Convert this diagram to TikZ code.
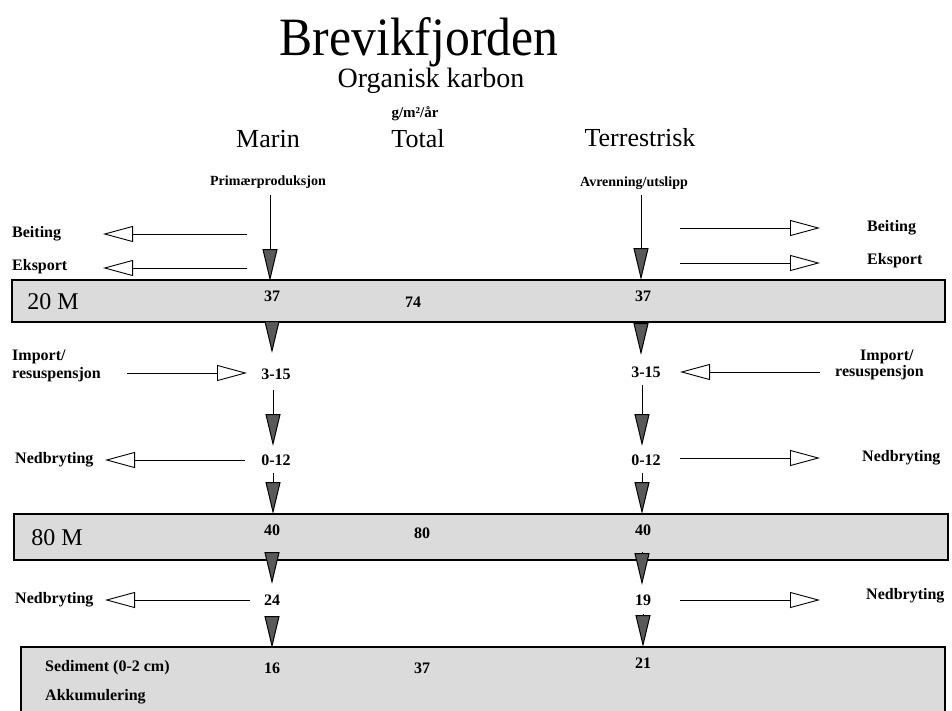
\documentclass[tikz,border=0pt]{standalone}
\usepackage{fontspec}
\setmainfont{Liberation Serif}
\newfontfamily\condfont[FakeStretch=0.92]{Liberation Serif}
\usetikzlibrary{arrows.meta}
\tikzset{
  downarrow/.style={draw=black, line width=1pt, -{Triangle[width=15pt,length=32pt,fill=black!65]}},
  openarrow/.style={draw=black, line width=0.9pt, -{Triangle[open,width=16pt,length=30pt,fill=white]}},
  layer/.style={draw=black, line width=1.2pt, fill=black!14},
  lbl/.style={font=\bfseries\fontsize{16}{18}\selectfont, inner sep=0pt},
  lblw/.style={lbl, anchor=west},
  num/.style={font=\bfseries\fontsize{16}{18}\selectfont, inner sep=0pt},
  colhead/.style={font=\fontsize{26}{30}\selectfont, inner sep=0pt, anchor=base},
  depth/.style={font=\fontsize{24}{28}\selectfont, inner sep=0pt},
}
\begin{document}
\begin{tikzpicture}[x=1pt,y=-1pt]
\useasboundingbox (0,0) rectangle (952,710);
% title
\node[inner sep=0pt, anchor=base, font=\condfont\fontsize{54}{60}\selectfont] (title) at (419,55) {Brevikfjorden};
\node[inner sep=0pt, anchor=base, font=\fontsize{28}{32}\selectfont] (sub) at (431,87) {Organisk karbon};
\node[inner sep=0pt, anchor=base, font=\bfseries\fontsize{15}{17}\selectfont] (unit) at (415,117) {g/m²/år};
\node[colhead] (marin) at (268,147) {Marin};
\node[colhead] (total) at (418,147) {Total};
\node[colhead] (terr) at (640,146) {Terrestrisk};
\node[lbl, font=\bfseries\fontsize{14}{16}\selectfont] (prod) at (268,182) {Primærproduksjon};
\node[lbl, font=\bfseries\fontsize{14}{16}\selectfont] (avr) at (634,183) {Avrenning/utslipp};

% layers
\draw[layer] (12,280) rectangle (945,322);
\draw[layer] (14,514) rectangle (948,560);
\draw[layer] (21,647) rectangle (945,730);

% layer texts
\node[depth] (d20) at (53,302) {20 M};
\node[num] (m37) at (272,296) {37};
\node[num] (t74) at (413,302) {74};
\node[num] (r37) at (643,296) {37};
\node[depth] (d80) at (57,538) {80 M};
\node[num] (m40) at (272,530) {40};
\node[num] (t80) at (422,533) {80};
\node[num] (r40) at (643,530) {40};
\node[lblw, font=\bfseries\fontsize{16}{18}\selectfont] (sed) at (45,668) {Sediment (0-2 cm)};
\node[lblw, font=\bfseries\fontsize{16}{18}\selectfont] (akk) at (45,697) {Akkumulering};
\node[num] (m16) at (272,668) {16};
\node[num] (t37) at (422,668) {37};
\node[num] (r21) at (643,663) {21};

% intermediate values
\node[num] (m315) at (276,374) {3-15};
\node[num] (r315) at (646,372) {3-15};
\node[num] (m012) at (276,460) {0-12};
\node[num] (r012) at (646,460) {0-12};
\node[num] (m24) at (272,600) {24};
\node[num] (r19) at (643,600) {19};

% side labels left
\node[lblw] (beitL) at (12,234) {Beiting};
\node[lblw] (eksL) at (12,267) {Eksport};
\node[lblw] (impL1) at (12,357) {Import/};
\node[lblw] (impL2) at (12,375) {resuspensjon};
\node[lblw] (nedL1) at (15,460) {Nedbryting};
\node[lblw] (nedL2) at (15,600) {Nedbryting};
% side labels right
\node[lblw] (beitR) at (867,228) {Beiting};
\node[lblw] (eksR) at (867,261) {Eksport};
\node[lblw] (impR1) at (860,357) {Import/};
\node[lblw] (impR2) at (835,373) {resuspensjon};
\node[lblw] (nedR1) at (862,458) {Nedbryting};
\node[lblw] (nedR2) at (866,596) {Nedbryting};

% coordinates for arrow ends
\coordinate (mA0) at (270,195); \coordinate (mA1) at (270,281);
\coordinate (rA0) at (641,195); \coordinate (rA1) at (641,280);
\coordinate (mB0) at (272,321); \coordinate (mB1) at (272,353);
\coordinate (rB0) at (641,321); \coordinate (rB1) at (641,355);
\coordinate (mC0) at (273,390); \coordinate (mC1) at (273,446);
\coordinate (rC0) at (642,385); \coordinate (rC1) at (642,446);
\coordinate (mD0) at (273,473); \coordinate (mD1) at (273,514);
\coordinate (rD0) at (642,473); \coordinate (rD1) at (642,514);
\coordinate (mE0) at (272,552); \coordinate (mE1) at (272,584);
\coordinate (rE0) at (642,552); \coordinate (rE1) at (642,585);
\coordinate (mF0) at (272,616); \coordinate (mF1) at (272,648);
\coordinate (rF0) at (643,614); \coordinate (rF1) at (643,647);

\draw[downarrow] (mA0) -- (mA1);
\draw[downarrow] (rA0) -- (rA1);
\draw[downarrow] (mB0) -- (mB1);
\draw[downarrow] (rB0) -- (rB1);
\draw[downarrow] (mC0) -- (mC1);
\draw[downarrow] (rC0) -- (rC1);
\draw[downarrow] (mD0) -- (mD1);
\draw[downarrow] (rD0) -- (rD1);
\draw[downarrow] (mE0) -- (mE1);
\draw[downarrow] (rE0) -- (rE1);
\draw[downarrow] (mF0) -- (mF1);
\draw[downarrow] (rF0) -- (rF1);

% horizontal open arrows
\coordinate (bLs) at (247,234); \coordinate (bLe) at (103,234);
\coordinate (eLs) at (247,268); \coordinate (eLe) at (103,268);
\coordinate (iLs) at (127,373); \coordinate (iLe) at (247,373);
\coordinate (n1Ls) at (245,460); \coordinate (n1Le) at (105,460);
\coordinate (n2Ls) at (250,600); \coordinate (n2Le) at (105,600);
\coordinate (bRs) at (680,228); \coordinate (bRe) at (820,228);
\coordinate (eRs) at (680,263); \coordinate (eRe) at (820,263);
\coordinate (iRs) at (820,372); \coordinate (iRe) at (680,372);
\coordinate (n1Rs) at (680,458); \coordinate (n1Re) at (820,458);
\coordinate (n2Rs) at (680,600); \coordinate (n2Re) at (820,600);

\draw[openarrow] (bLs) -- (bLe);
\draw[openarrow] (eLs) -- (eLe);
\draw[openarrow] (iLs) -- (iLe);
\draw[openarrow] (n1Ls) -- (n1Le);
\draw[openarrow] (n2Ls) -- (n2Le);
\draw[openarrow] (bRs) -- (bRe);
\draw[openarrow] (eRs) -- (eRe);
\draw[openarrow] (iRs) -- (iRe);
\draw[openarrow] (n1Rs) -- (n1Re);
\draw[openarrow] (n2Rs) -- (n2Re);
\end{tikzpicture}
\end{document}
